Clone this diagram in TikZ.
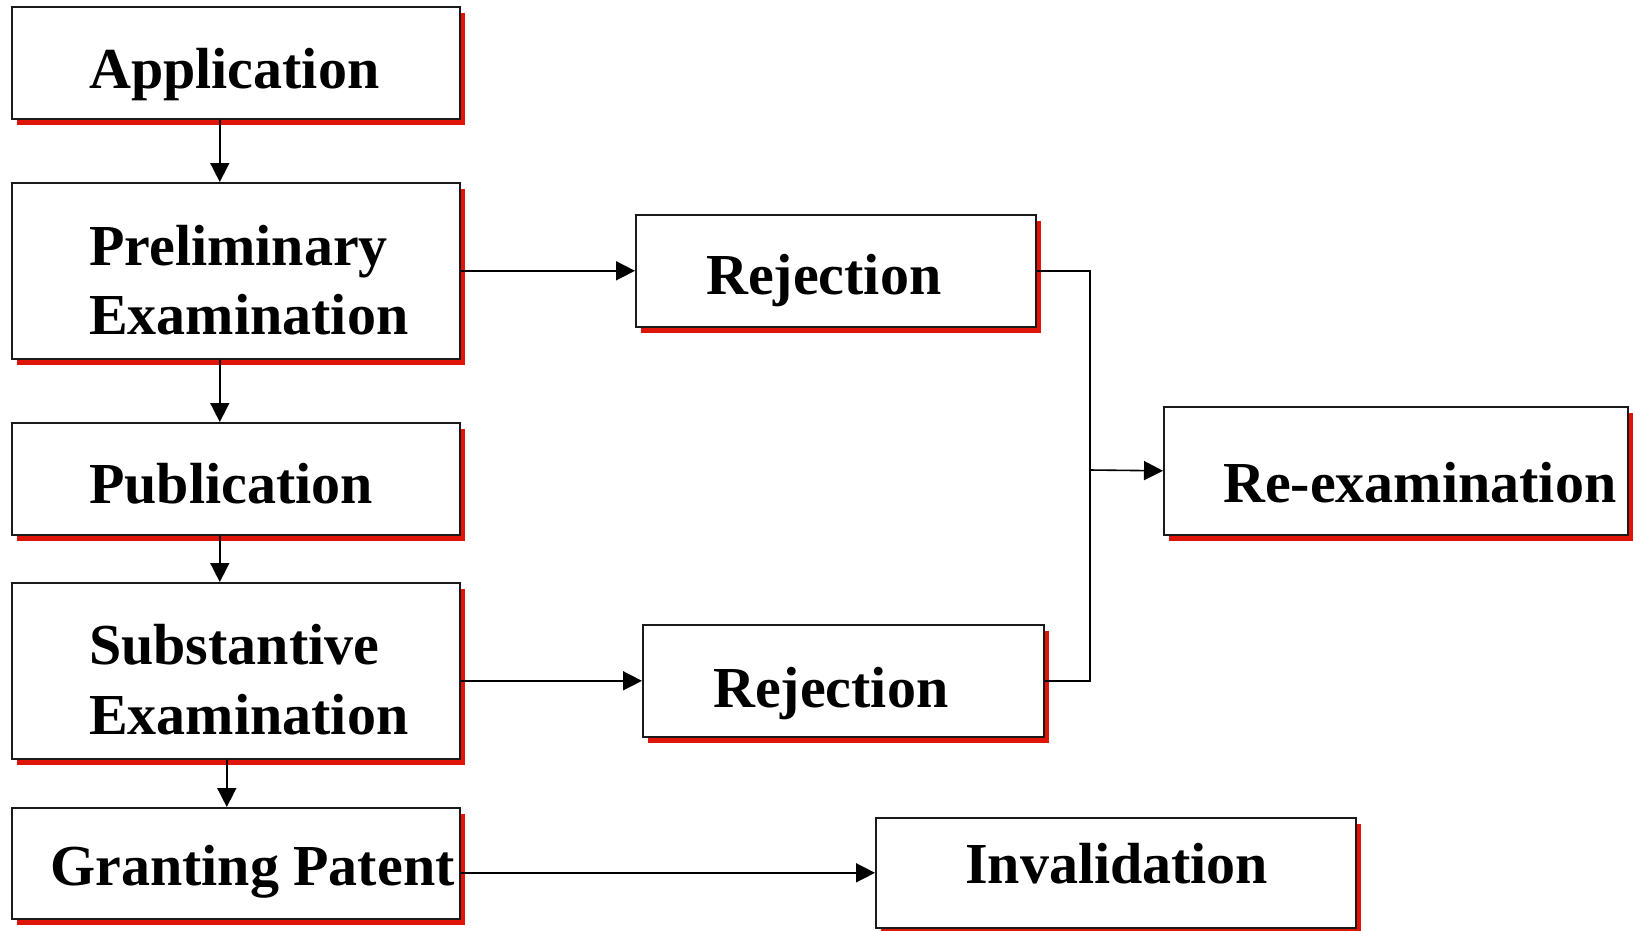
\documentclass[tikz,border=0pt]{standalone}
\usepackage{fontspec}
\setmainfont{Liberation Serif}
\usetikzlibrary{arrows.meta,shadows}
\definecolor{shred}{HTML}{E01408}
\definecolor{boxline}{HTML}{1A1A1A}
\begin{document}
\begin{tikzpicture}[x=1pt,y=-1pt,
  box/.style={draw=boxline,line width=1.6pt,fill=white,inner sep=0pt,anchor=north west,
    drop shadow={shadow xshift=5.5pt,shadow yshift=-6pt,fill=shred,opacity=1}},
  lbl/.style={anchor=base west,inner sep=0pt,font=\fontsize{58}{69}\selectfont\bfseries},
  conn/.style={draw=black,line width=1.6pt},
  arr/.style={conn,-{Triangle[length=19pt,width=19pt]}}]
\useasboundingbox (0,0) rectangle (1633,930);
% boxes
\node[box,minimum width=448pt,minimum height=112pt] (app) at (11,6) {};
\node[box,minimum width=448pt,minimum height=176pt] (pre) at (11,182) {};
\node[box,minimum width=448pt,minimum height=112pt] (pub) at (11,422) {};
\node[box,minimum width=448pt,minimum height=176pt] (sub) at (11,582) {};
\node[box,minimum width=448pt,minimum height=111pt] (gra) at (11,807) {};
\node[box,minimum width=400pt,minimum height=112pt] (rej1) at (635,214) {};
\node[box,minimum width=401pt,minimum height=112pt] (rej2) at (642,624) {};
\node[box,minimum width=464pt,minimum height=128pt] (rex) at (1163,406) {};
\node[box,minimum width=480pt,minimum height=110pt] (inv) at (875,817) {};
% labels
\node[lbl] (tapp) at (89,88) {Application};
\node[lbl] (tpre1) at (89,265) {Preliminary};
\node[lbl] (tpre2) at (89,334) {Examination};
\node[lbl] (tpub) at (89,503) {Publication};
\node[lbl] (tsub1) at (89,664) {Substantive};
\node[lbl] (tsub2) at (89,734) {Examination};
\node[lbl] (tgra) at (50,885) {Granting Patent};
\node[lbl] (trej1) at (706,294) {Rejection};
\node[lbl] (trej2) at (713,707) {Rejection};
\node[lbl] (trex) at (1223,502) {Re-examination};
\node[lbl] (tinv) at (965,883) {Invalidation};
% connectors
\draw[arr] ([xshift=-16pt]app.south) -- ([xshift=-16pt]pre.north);
\draw[arr] ([xshift=-16pt]pre.south) -- ([xshift=-16pt]pub.north);
\draw[arr] ([xshift=-16pt]pub.south) -- ([xshift=-16pt]sub.north);
\draw[arr] ([xshift=-9pt]sub.south) -- ([xshift=-9pt]gra.north);
\draw[arr] (pre.east |- rej1.west) -- (rej1.west);
\draw[arr] (sub.east |- rej2.west) -- (rej2.west);
\draw[arr] (gra.east |- inv.west) -- (inv.west);
\coordinate (j) at (1090,470);
\draw[conn] (rej1.east) -| (j);
\draw[conn] (rej2.east) -| (j);
\draw[arr] (j) -- (rex.west);
\end{tikzpicture}
\end{document}
